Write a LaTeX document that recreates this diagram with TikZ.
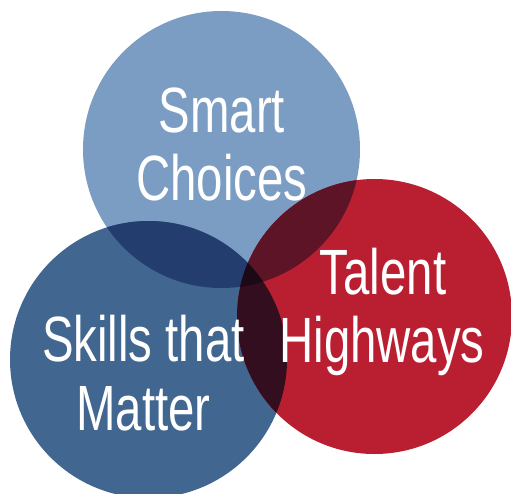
\documentclass[tikz,border=0pt]{standalone}
\usepackage{fontspec}
\setmainfont{Liberation Sans}[FakeStretch=0.74]
\definecolor{ctop}{RGB}{123,157,195}
\definecolor{cleft}{RGB}{65,102,143}
\definecolor{cright}{RGB}{186,31,49}
\definecolor{ctl}{RGB}{34,61,110}
\definecolor{ctr}{RGB}{92,20,38}
\definecolor{clr}{RGB}{50,14,30}
\definecolor{call}{RGB}{28,9,22}
\tikzset{lbl/.style={text=white,font=\fontsize{64}{68}\selectfont,anchor=base,inner sep=0pt}}
\begin{document}
\begin{tikzpicture}[x=1pt,y=-1pt]
\useasboundingbox (0,0) rectangle (511,493);
\def\ctop{(221.5,149.5) circle[radius=138.5]}
\def\cleft{(148.5,359.5) circle[radius=138.5]}
\def\cright{(374.5,316.5) circle[radius=137.5]}
\begin{scope}
\clip (0,0) rectangle (511,493);
\fill[ctop] \ctop;
\fill[cleft] \cleft;
\fill[cright] \cright;
\begin{scope}\clip \ctop; \fill[ctl] \cleft; \end{scope}
\begin{scope}\clip \ctop; \fill[ctr] \cright; \end{scope}
\begin{scope}\clip \cleft; \fill[clr] \cright; \end{scope}
\begin{scope}\clip \ctop; \clip \cleft; \fill[call] \cright; \end{scope}
\end{scope}
\node[lbl] (s1) at (222,132) {Smart};
\node[lbl] (s2) at (222,200) {Choices};
\node[lbl] (k1) at (143.5,361) {Skills that};
\node[lbl] (k2) at (143.5,430) {Matter};
\node[lbl] (t1) at (383,294) {Talent};
\node[lbl] (t2) at (382,362) {Highways};
\end{tikzpicture}
\end{document}
